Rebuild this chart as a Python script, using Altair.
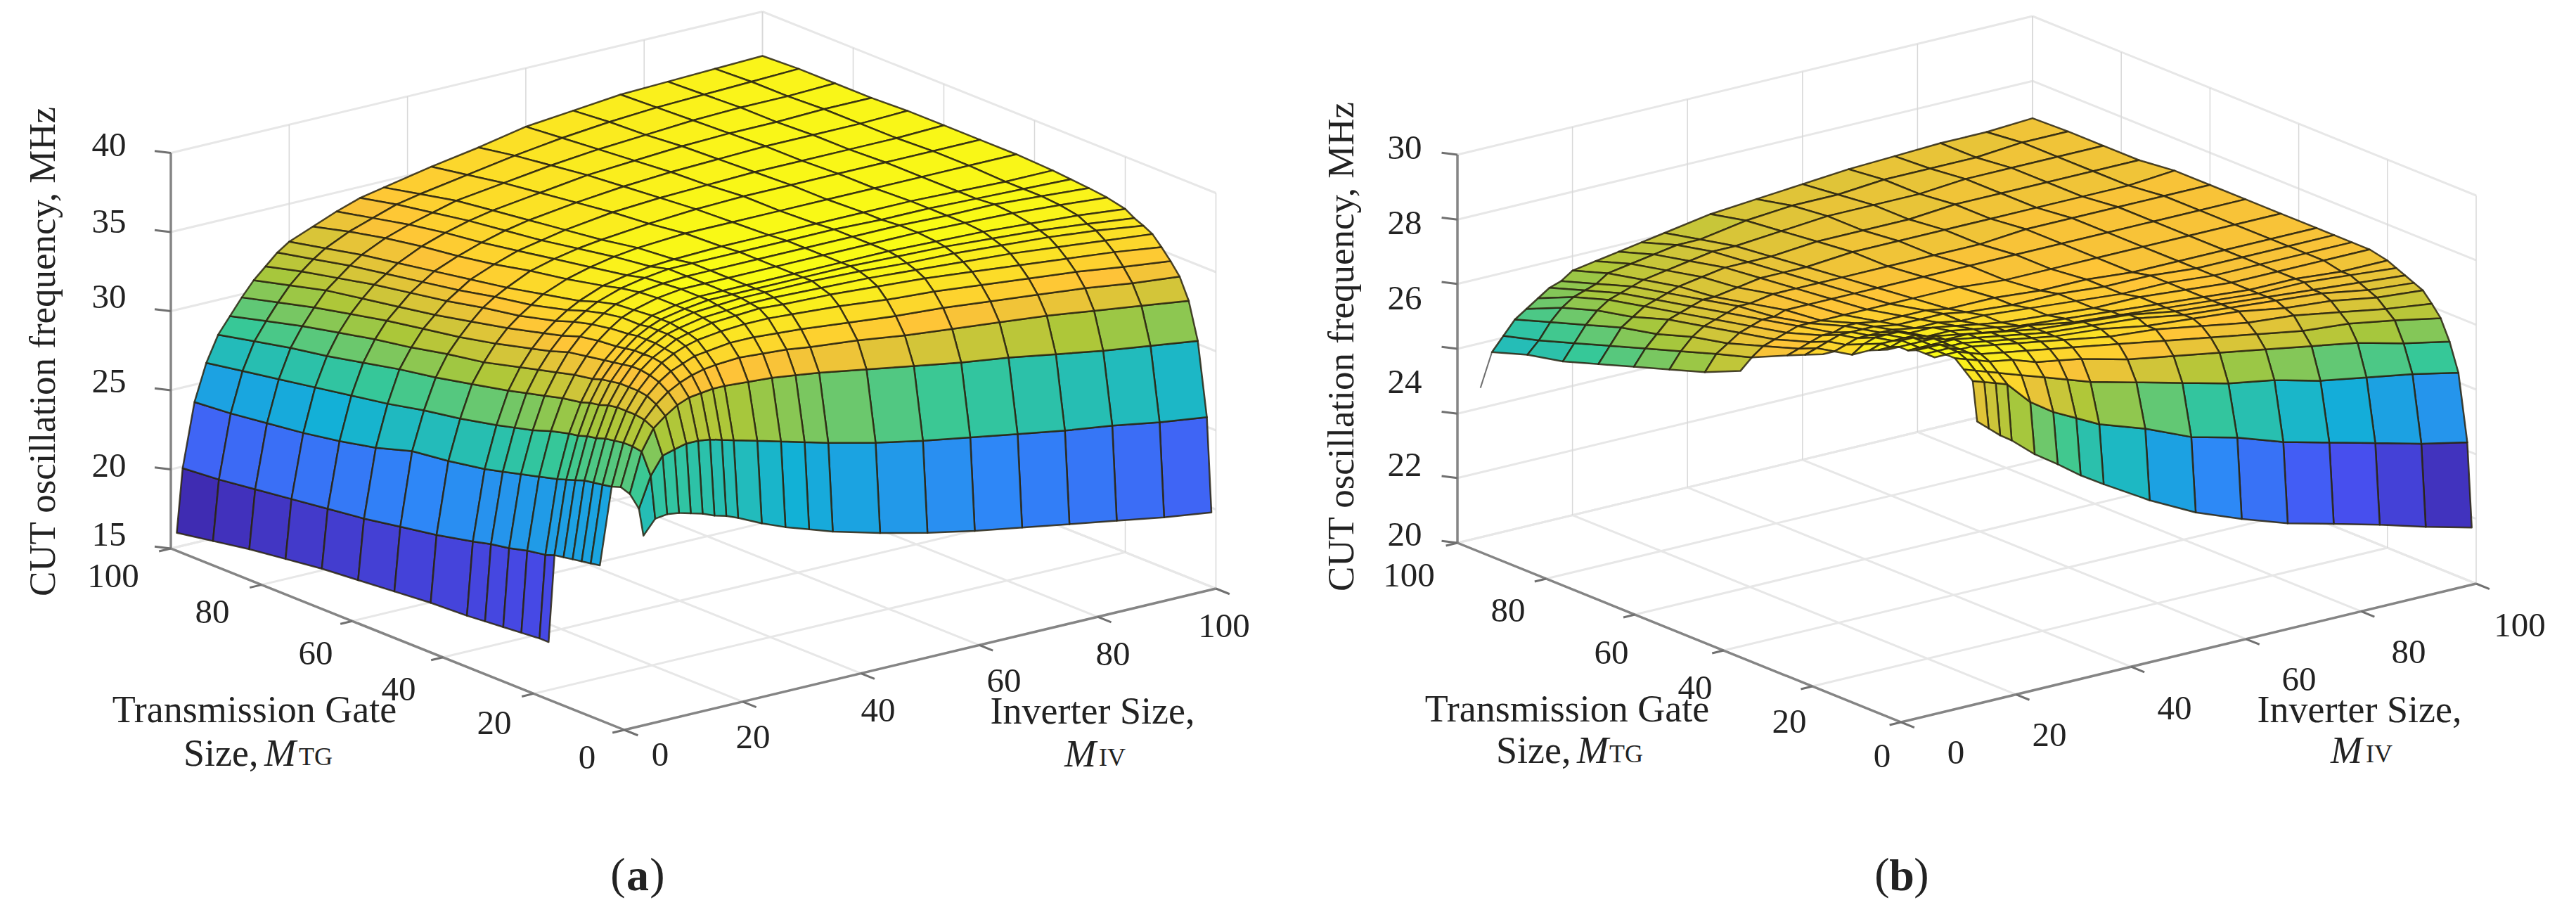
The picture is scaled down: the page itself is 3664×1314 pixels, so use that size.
import math
import altair as alt
import pandas as pd

N = None
GRID = [1, 2, 4, 6, 8, 10, 12, 14, 16, 18, 20, 24, 28, 32, 36, 44, 52, 60, 68, 76, 84, 92, 100]

# CUT oscillation frequency (MHz): one row per MTG value in GRID, one column per MIV value in GRID
Z_A = [
 [N,N,26.8,27.7,27.8,27.7,27.5,27.3,27.0,26.8,26.5,25.8,25.2,24.7,24.2,23.4,22.7,22.1,21.6,21.1,20.6,20.1,19.7],
 [N,N,28.4,30.3,31.4,31.6,31.8,31.8,31.7,31.5,31.3,30.9,30.5,30.1,29.7,29.0,28.4,27.9,27.4,26.9,26.5,26.0,25.6],
 [N,N,29.1,31.6,32.9,33.5,34.0,34.3,34.4,34.5,34.5,34.4,34.3,34.1,33.9,33.4,32.9,32.4,32.0,31.5,31.0,30.6,30.2],
 [N,N,29.3,31.7,33.2,34.0,34.6,35.0,35.3,35.5,35.6,35.7,35.6,35.5,35.3,35.0,34.6,34.3,34.0,33.7,33.3,32.9,32.5],
 [N,24.3,29.1,31.7,33.3,34.3,35.0,35.5,35.8,36.1,36.2,36.4,36.4,36.3,36.2,35.9,35.6,35.4,35.1,34.8,34.5,34.1,33.8],
 [N,24.2,29.0,31.6,33.3,34.4,35.2,35.8,36.2,36.5,36.7,36.9,37.0,37.0,36.9,36.7,36.4,36.2,35.9,35.6,35.3,34.9,34.55],
 [N,24.1,28.9,31.5,33.3,34.4,35.3,35.9,36.3,36.7,36.9,37.2,37.3,37.4,37.3,37.2,37.0,36.8,36.5,36.2,35.9,35.6,35.2],
 [N,24.0,28.8,31.3,33.2,34.4,35.3,35.9,36.4,36.8,37.0,37.3,37.4,37.5,37.5,37.4,37.3,37.1,36.9,36.7,36.4,36.1,35.8],
 [N,23.9,28.6,31.2,33.0,34.3,35.2,35.9,36.4,36.8,37.1,37.4,37.5,37.6,37.6,37.6,37.5,37.3,37.2,37.0,36.8,36.5,36.1],
 [18.4,23.8,28.4,31.0,32.9,34.2,35.1,35.8,36.4,36.8,37.1,37.4,37.6,37.6,37.6,37.6,37.6,37.5,37.4,37.2,37.0,36.7,36.35],
 [18.4,23.6,28.2,30.9,32.7,34.0,35.0,35.7,36.3,36.7,37.1,37.4,37.6,37.6,37.6,37.6,37.6,37.6,37.5,37.4,37.2,37.0,36.7],
 [18.3,23.4,27.9,30.6,32.5,33.8,34.8,35.6,36.2,36.7,37.0,37.4,37.6,37.6,37.6,37.6,37.6,37.6,37.6,37.5,37.4,37.2,36.96],
 [18.2,23.1,27.6,30.2,32.2,33.5,34.6,35.4,36.0,36.5,36.9,37.3,37.5,37.6,37.6,37.6,37.6,37.6,37.6,37.5,37.5,37.3,37.1],
 [18.1,22.9,27.3,29.9,31.9,33.2,34.2,35.0,35.7,36.2,36.6,37.1,37.4,37.6,37.6,37.6,37.6,37.6,37.5,37.5,37.4,37.3,37.2],
 [18.0,22.6,27.0,29.6,31.6,32.9,33.9,34.7,35.3,35.8,36.2,36.8,37.1,37.3,37.4,37.5,37.5,37.5,37.5,37.5,37.4,37.3,37.3],
 [17.9,22.1,26.6,29.1,31.1,32.3,33.3,34.1,34.7,35.2,35.7,36.3,36.7,37.0,37.2,37.4,37.4,37.4,37.4,37.4,37.4,37.4,37.4],
 [17.7,21.7,26.3,28.7,30.6,31.9,32.8,33.6,34.3,34.8,35.2,35.9,36.3,36.6,36.8,37.1,37.3,37.4,37.4,37.4,37.4,37.4,37.4],
 [17.5,21.3,25.6,28.2,30.2,31.4,32.4,33.1,33.8,34.3,34.8,35.4,35.9,36.2,36.5,36.9,37.1,37.2,37.3,37.3,37.3,37.3,37.4],
 [17.3,21.0,25.1,27.8,29.7,31.0,32.0,32.7,33.4,33.9,34.4,35.0,35.5,35.9,36.2,36.6,36.9,37.1,37.2,37.3,37.3,37.3,37.4],
 [17.0,20.7,24.7,27.4,29.2,30.5,31.5,32.3,33.0,33.5,34.0,34.7,35.2,35.6,35.9,36.3,36.7,36.9,37.1,37.2,37.2,37.3,37.3],
 [16.7,20.4,24.4,27.0,28.8,30.0,31.0,31.9,32.5,33.1,33.6,34.3,34.8,35.2,35.6,36.0,36.4,36.7,36.9,37.1,37.2,37.2,37.3],
 [16.3,20.1,24.1,26.6,28.3,29.4,30.4,31.3,32.0,32.6,33.1,33.8,34.3,34.8,35.1,35.6,36.1,36.5,36.8,37.0,37.1,37.2,37.3],
 [15.9,19.9,23.9,26.2,27.8,28.8,29.8,30.7,31.4,32.1,32.6,33.2,33.8,34.3,34.6,35.2,35.7,36.3,36.6,36.9,37.0,37.1,37.2],
]
Z_B = [
 [N,N,N,N,N,N,N,27.2,26.95,26.7,26.5,26.0,25.6,25.17,24.8,24.1,23.5,23.05,22.65,22.35,22.04,21.7,21.4],
 [N,N,N,N,N,N,N,28.2,28.1,28.0,27.9,27.3,26.9,26.6,26.3,25.9,25.4,25.1,24.7,24.4,24.1,23.8,23.55],
 [N,N,N,N,N,N,N,28.4,28.3,28.2,28.1,27.9,27.7,27.5,27.3,27.0,26.7,26.4,26.2,25.9,25.7,25.5,25.25],
 [N,N,N,N,N,N,N,28.6,28.5,28.4,28.3,28.2,28.0,27.9,27.8,27.5,27.3,27.1,26.9,26.7,26.5,26.2,25.96],
 [N,N,N,N,N,N,28.6,28.6,28.6,28.5,28.4,28.3,28.2,28.1,28.0,27.8,27.6,27.4,27.2,27.0,26.9,26.7,26.47],
 [N,N,N,N,N,N,28.6,28.6,28.6,28.5,28.5,28.4,28.3,28.2,28.1,27.9,27.8,27.6,27.4,27.3,27.1,26.9,26.75],
 [N,N,N,N,N,N,28.6,28.6,28.6,28.5,28.5,28.4,28.3,28.2,28.1,28.0,27.8,27.7,27.6,27.4,27.3,27.1,27.0],
 [N,N,N,N,N,N,28.5,28.5,28.5,28.5,28.5,28.4,28.3,28.2,28.1,28.0,27.9,27.7,27.6,27.5,27.4,27.2,27.1],
 [N,N,N,N,N,28.5,28.5,28.5,28.5,28.5,28.4,28.4,28.3,28.2,28.1,28.0,27.9,27.7,27.6,27.5,27.4,27.3,27.2],
 [N,N,N,N,N,28.4,28.4,28.5,28.5,28.4,28.4,28.3,28.2,28.1,28.1,27.9,27.8,27.7,27.6,27.5,27.5,27.4,27.3],
 [N,N,N,N,N,28.3,28.4,28.4,28.4,28.4,28.3,28.3,28.2,28.1,28.0,27.9,27.8,27.7,27.6,27.5,27.5,27.4,27.4],
 [N,N,N,N,N,28.0,28.2,28.3,28.3,28.3,28.2,28.2,28.1,28.0,27.9,27.8,27.7,27.7,27.6,27.5,27.5,27.5,27.5],
 [N,N,N,N,27.9,27.9,28.0,28.1,28.1,28.1,28.1,28.0,28.0,27.9,27.9,27.8,27.7,27.6,27.6,27.5,27.5,27.5,27.5],
 [N,N,N,N,27.7,27.8,27.9,28.0,28.0,28.0,28.0,27.9,27.9,27.9,27.8,27.7,27.7,27.6,27.6,27.5,27.5,27.5,27.5],
 [N,N,N,N,27.5,27.6,27.7,27.8,27.8,27.9,27.9,27.8,27.8,27.8,27.7,27.7,27.6,27.6,27.5,27.5,27.5,27.5,27.5],
 [N,N,N,26.8,27.08,27.3,27.4,27.5,27.6,27.6,27.6,27.6,27.6,27.6,27.6,27.6,27.5,27.5,27.5,27.5,27.5,27.5,27.5],
 [N,N,N,26.4,26.8,27.0,27.2,27.3,27.4,27.4,27.5,27.5,27.5,27.5,27.5,27.5,27.5,27.5,27.5,27.5,27.5,27.5,27.5],
 [N,N,N,26.1,26.5,26.8,27.0,27.1,27.2,27.3,27.3,27.4,27.4,27.4,27.4,27.4,27.4,27.4,27.5,27.5,27.5,27.5,27.5],
 [N,N,N,25.8,26.2,26.5,26.8,26.9,27.0,27.1,27.1,27.2,27.3,27.3,27.3,27.4,27.4,27.4,27.4,27.4,27.4,27.4,27.5],
 [N,N,N,25.5,25.9,26.3,26.5,26.7,26.8,26.9,27.0,27.1,27.2,27.2,27.2,27.3,27.3,27.3,27.4,27.4,27.4,27.4,27.4],
 [N,N,N,25.2,25.6,26.0,26.3,26.5,26.6,26.7,26.8,26.9,27.0,27.1,27.1,27.2,27.3,27.3,27.3,27.4,27.4,27.4,27.4],
 [N,N,N,25.0,25.3,25.7,26.0,26.2,26.3,26.4,26.6,26.7,26.8,26.9,26.9,27.1,27.2,27.2,27.3,27.3,27.3,27.4,27.4],
 [N,N,23.85,24.7,25.05,25.4,25.6,25.8,26.0,26.1,26.3,26.4,26.5,26.6,26.7,26.9,27.0,27.1,27.2,27.25,27.3,27.3,27.37],
]

AXIS_TICKS = [0, 20, 40, 60, 80, 100]
Z_TICKS_A = [15, 20, 25, 30, 35, 40]
Z_TICKS_B = [20, 21.67, 23.33, 25, 26.67, 28.33, 30]
Z_LABELS_A = [15, 20, 25, 30, 35, 40]
Z_LABELS_B = [20, 22, 24, 26, 28, 30]
PARULA = ["#3e26a8", "#4852f4", "#2e87f7", "#12b1d6", "#37c897", "#abc739", "#fec338", "#f9fb15"]

W, H = 3648, 1298
M = 8  # page margin

PANEL_A = dict(bx=888, by=1038, mx=8.415, my=-2.01, tx=-6.45, ty=-2.58, zs=22.5, z0=15, z1=40, zt=Z_TICKS_A, zl=Z_LABELS_A, table=Z_A,
               zlabx=155, zlaby=[761, 663, 543, 423, 316, 207],
               mlab=[(939,1074),(1071,1049),(1249,1011),(1428,969),(1583,931),(1741,891)],
               tlab=[(835,1078),(703,1029),(567,981),(449,930),(302,871),(161,820)])
PANEL_B = dict(bx=2704, by=1027, mx=8.18, my=-1.97, tx=-6.31, ty=-2.55, zs=55.2, z0=20, z1=30, zt=Z_TICKS_B, zl=Z_LABELS_B, table=Z_B,
               zlabx=1998, zlaby=[761, 662, 544, 425, 318, 211],
               mlab=[(2782,1071),(2915,1046),(3093,1008),(3270,967),(3426,928),(3584,890)],
               tlab=[(2677,1076),(2545,1027),(2411,979),(2292,929),(2145,869),(2004,819)])


def proj(p, m, t, z):
    return (p["bx"] + p["mx"] * m + p["tx"] * t - M,
            p["by"] + p["my"] * m + p["ty"] * t - p["zs"] * (z - p["z0"]) - M)


def seg(p, a, b):
    x, y = proj(p, *a)
    x2, y2 = proj(p, *b)
    return dict(x=x, y=y, x2=x2, y2=y2)


def frame_segments(p):
    z0, z1 = p["z0"], p["z1"]
    light, thin, axes, ticks = [], [], [], []
    for v in AXIS_TICKS:
        light.append(seg(p, (v, 0, z0), (v, 100, z0)))
        light.append(seg(p, (0, v, z0), (100, v, z0)))
        thin.append(seg(p, (v, 100, z0), (v, 100, z1)))
        thin.append(seg(p, (100, v, z0), (100, v, z1)))
    for z in p["zt"]:
        light.append(seg(p, (0, 100, z), (100, 100, z)))
        light.append(seg(p, (100, 100, z), (100, 0, z)))
        ticks.append(seg(p, (0, 100, z), (-1.2, 102, z)))
    axes.append(seg(p, (0, 100, z0), (0, 100, z1)))
    axes.append(seg(p, (0, 0, z0), (0, 100, z0)))
    axes.append(seg(p, (0, 0, z0), (100, 0, z0)))
    for v in AXIS_TICKS:
        ticks.append(seg(p, (v, 0, z0), (v, -3, z0)))
        ticks.append(seg(p, (0, v, z0), (-2, v, z0)))
    return light, thin, axes, ticks


def cells(p):
    table = p["table"]
    vals = [v for row in table for v in row if v is not None]
    zmin, zmax = min(vals), max(vals)
    out = []
    for j in range(len(GRID) - 1):
        for i in range(len(GRID) - 1):
            c = [table[j][i], table[j][i + 1], table[j + 1][i + 1], table[j + 1][i]]
            if any(v is None for v in c):
                continue
            mm = (GRID[i] + GRID[i + 1]) / 2
            tt = (GRID[j] + GRID[j + 1]) / 2
            zz = sum(c) / 4
            near = -(0.609 * mm / 100 + 0.793 * tt / 100) * 0.866 + 0.5 * (zz - p["z0"]) / (p["z1"] - p["z0"])
            ring = [proj(p, GRID[i], GRID[j], c[0]), proj(p, GRID[i + 1], GRID[j], c[1]),
                    proj(p, GRID[i + 1], GRID[j + 1], c[2]), proj(p, GRID[i], GRID[j + 1], c[3])]
            ring = [list(q) for q in ring] + [list(ring[0])]
            out.append((near, {"type": "Feature", "geometry": {"type": "Polygon", "coordinates": [ring]},
                               "properties": {"c": (c[0] - zmin) / (zmax - zmin)}}))
    out.sort(key=lambda e: e[0])
    return [e[1] for e in out]


X = alt.X("x:Q", scale=alt.Scale(domain=[0, W], nice=False, zero=False), axis=None)
Y = alt.Y("y:Q", scale=alt.Scale(domain=[0, H], nice=False, zero=False, reverse=True), axis=None)


def rules(rows, color, size):
    return alt.Chart(pd.DataFrame(rows)).mark_rule(color=color, size=size).encode(x=X, y=Y, x2="x2:Q", y2="y2:Q")


def texts(rows, size, **kw):
    df = pd.DataFrame([dict(x=a - M, y=b - M, s=s) for a, b, s in rows])
    return alt.Chart(df).mark_text(font="Liberation Serif", fontSize=size, color="#222222", baseline="middle",
                                   **kw).encode(x=X, y=Y, text="s:N")


layers = []
feats = []
light, thin, axes, ticks = [], [], [], []
tick_text = []
for p in (PANEL_A, PANEL_B):
    a, b, c, d = frame_segments(p)
    light += a
    thin += b
    axes += c
    ticks += d
    feats += cells(p)
    tick_text += [(p["zlabx"], yy, str(v)) for yy, v in zip(p["zlaby"], p["zl"])]
    tick_text += [(q[0], q[1], str(v)) for q, v in zip(p["mlab"], AXIS_TICKS)]
    tick_text += [(q[0], q[1], str(v)) for q, v in zip(p["tlab"], AXIS_TICKS)]

layers.append(rules(light, "#e7e7e7", 3))
layers.append(rules(thin, "#d8d8d8", 1.5))
layers.append(rules([seg(PANEL_B, (4, 100, 23.85), (6, 100, 24.7))], "#6f6f6f", 2))

surface = alt.Chart(alt.Data(values=feats)).mark_geoshape(stroke="#2a2410", strokeWidth=2.5, strokeOpacity=0.85, strokeJoin="round").encode(
    color=alt.Color("properties.c:Q", legend=None,
                    scale=alt.Scale(domain=[i / (len(PARULA) - 1) for i in range(len(PARULA))], range=PARULA, interpolate="rgb"))
).project(type="identity", scale=1, translate=[0, 0])
layers.append(surface)

layers.append(rules(axes, "#858585", 3.5))
layers.append(rules(ticks, "#707070", 3))

layers.append(texts(tick_text, 49, align="center"))
layers.append(texts([(62, 500, "CUT oscillation frequency, MHz"), (1909, 493, "CUT oscillation frequency, MHz")], 53, align="center", angle=270))
layers.append(texts([(362, 1011, "Transmission Gate"), (1554, 1013, "Inverter Size,"),
                     (2229, 1010, "Transmission Gate"), (3356, 1011, "Inverter Size,")], 54, align="center"))
layers.append(texts([(261, 1073, "Size,"), (2128, 1069, "Size,")], 54, align="left"))
layers.append(texts([(376, 1073, "M"), (1514, 1074, "M"), (2243, 1069, "M"), (3315, 1069, "M")], 54, align="left", fontStyle="italic"))
layers.append(texts([(425, 1077, "TG"), (1563, 1078, "IV"), (2289, 1073, "TG"), (3365, 1073, "IV")], 36, align="left"))
layers.append(texts([(879, 1245, "("), (935, 1245, ")"), (2677, 1245, "("), (2733, 1245, ")")], 64, align="center"))
layers.append(texts([(907, 1247, "a"), (2705, 1247, "b")], 64, align="center", fontWeight="bold"))

chart = alt.layer(*layers).properties(width=W, height=H, padding=0, autosize=alt.AutoSizeParams(type="none")).configure_view(stroke=None)
chart.save("out.html", embed_options={"renderer": "svg", "actions": False})
